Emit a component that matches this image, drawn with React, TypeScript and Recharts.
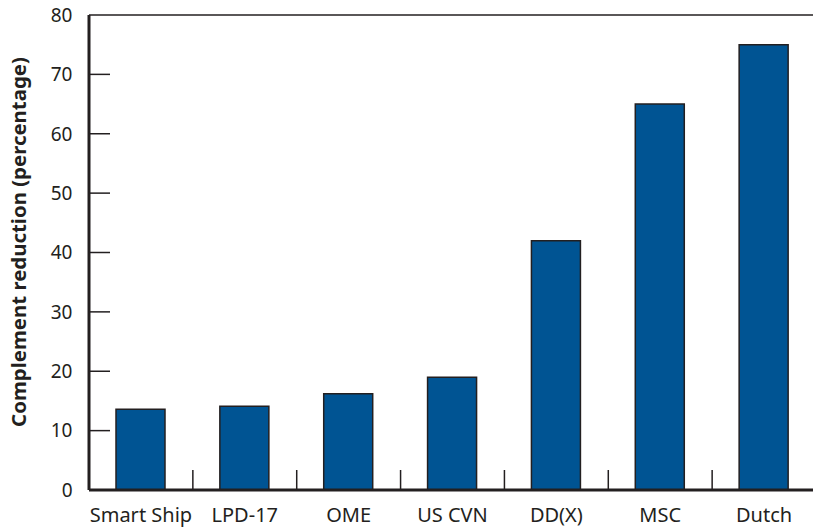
import React from "react";
import { BarChart, Bar, XAxis, YAxis, ReferenceLine } from "recharts";

// programs compared
const programs = ["Smart Ship", "LPD-17", "OME", "US CVN", "DD(X)", "MSC", "Dutch"];
// complement reduction, percent
const reduction = [13.6, 14.1, 16.2, 19, 42, 65, 75];
const yTicks = [0, 10, 20, 30, 40, 50, 60, 70, 80];
const innerTicks = [10, 20, 30, 40, 50, 60, 70];

const ink = "#231f20";
const barBlue = "#005493";
const font = "'Noto Sans', sans-serif";

const data = programs.map((name, i) => ({ name, value: reduction[i] }));

// category label plus the small divider mark at the right edge of the band
const XTick = (props: any) => {
  const { x, y, payload, index } = props;
  const half = payload?.offset ?? 51.9;
  return (
    <g>
      <text x={x} y={y + 32} textAnchor="middle" fill={ink} fontSize={20} fontFamily={font}>
        {payload.value}
      </text>
      {index < programs.length - 1 && (
        <line x1={x + half} x2={x + half} y1={y - 20} y2={y} stroke={ink} strokeWidth={1.5} />
      )}
    </g>
  );
};

const YTick = (props: any) => {
  const { x, y, payload } = props;
  return (
    <text x={x} y={y} dy="0.36em" textAnchor="end" fill={ink} fontSize={19} fontFamily={font}>
      {payload.value}
    </text>
  );
};

// short inward mark: a reference line cut down to 21px from the axis
const ShortMark = (p: any) => {
  const x1 = Number(p.x1);
  const y1 = Number(p.y1);
  return <path d={`M${x1},${y1}H${x1 + 21}`} stroke={ink} strokeWidth={1.5} fill="none" />;
};

export default function App() {
  return (
    <div style={{ position: "absolute", left: 0, top: 0, width: 813, height: 530, overflow: "hidden", background: "#fff" }}>
      <BarChart width={830} height={530} data={data} margin={{ top: 15, right: 14, left: 0, bottom: 0 }}>
        <XAxis
          dataKey="name"
          height={40}
          tickLine={false}
          tickSize={0}
          tickMargin={0}
          interval={0}
          tick={<XTick />}
          axisLine={{ stroke: ink, strokeWidth: 3 }}
        />
        <YAxis
          width={89}
          domain={[0, 80]}
          ticks={yTicks}
          tickLine={false}
          tickSize={0}
          tickMargin={16.5}
          interval={0}
          tick={<YTick />}
          axisLine={{ stroke: ink, strokeWidth: 3 }}
        />
        <ReferenceLine y={80} stroke={ink} strokeWidth={1.5} />
        {innerTicks.map((v) => (
          <ReferenceLine key={v} y={v} stroke={ink} strokeWidth={1.5} shape={ShortMark} />
        ))}
        <Bar dataKey="value" fill={barBlue} stroke={ink} strokeWidth={1.5} barSize={49} isAnimationActive={false} />
      </BarChart>
      {/* y axis title */}
      <div
        style={{
          position: "absolute",
          left: -182,
          top: 230,
          width: 400,
          lineHeight: "24px",
          textAlign: "center",
          whiteSpace: "nowrap",
          transform: "rotate(-90deg)",
          fontFamily: font,
          fontWeight: "bold",
          fontSize: 20.4,
          color: ink,
        }}
      >
        Complement reduction (percentage)
      </div>
    </div>
  );
}
